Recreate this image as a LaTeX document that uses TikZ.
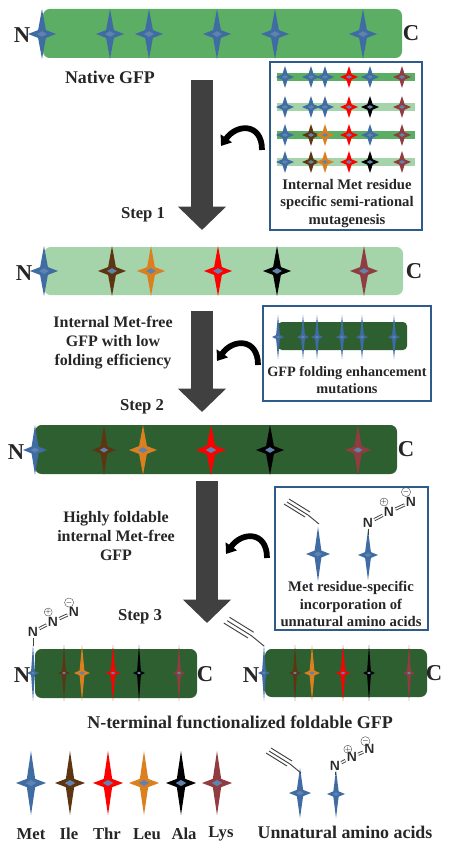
\documentclass[tikz,border=0pt]{standalone}
\usepackage{fontspec}
\setmainfont{Liberation Serif}
\usetikzlibrary{arrows.meta,calc}
\definecolor{gfpmid}{HTML}{5BAE64}
\definecolor{gfppale}{HTML}{A5D4AB}
\definecolor{gfpdark}{HTML}{2D5F30}
\definecolor{boxblue}{HTML}{2F5A8C}
\definecolor{downgray}{HTML}{404040}
\definecolor{metc}{HTML}{3F6CA3}
\definecolor{ilec}{HTML}{5E3511}
\definecolor{thrc}{HTML}{FF0000}
\definecolor{leuc}{HTML}{DC7F1E}
\definecolor{alac}{HTML}{000000}
\definecolor{lysc}{HTML}{913C40}
\definecolor{spotc}{HTML}{5F83AE}
\tikzset{
  x=0.75pt, y=-0.75pt,
  panelbox/.style={draw=boxblue, line width=1.9pt, fill=white},
  labeltxt/.style={font=\fontsize{12.5}{14.3}\selectfont\bfseries, align=center, inner sep=0pt, text=black!85},
  widetxt/.style={labeltxt, font=\fontsize{13.4}{15}\selectfont\bfseries},
  sidetxt/.style={labeltxt, font=\fontsize{12}{14.3}\selectfont\bfseries},
  boxtxt/.style={font=\fontsize{11}{13}\selectfont\bfseries, align=center, inner sep=0pt, text=black!85},
  endtxt/.style={font=\fontsize{17}{17}\selectfont\bfseries, inner sep=0pt, text=black!85},
  downarr/.style={-{Triangle[length=17.5pt, width=35pt]}, line width=16.5pt, color=downgray},
  curvearr/.style={-{Triangle[length=7pt, width=10pt]}, line width=4.3pt, color=black},
  atom/.style={font=\sffamily\bfseries\fontsize{10}{10}\selectfont, inner sep=0.6pt, text=black!85},
  charge/.style={draw=black!70, circle, line width=0.3pt, inner sep=0pt, minimum size=5.5pt,
                 font=\sffamily\fontsize{5.5}{5.5}\selectfont},
  bond/.style={line width=0.7pt, color=black!75},
  azide/.pic={
    \node[atom] (a) at (0,0) {N};
    \node[atom] (b) at (21,-11) {N};
    \node[atom] (c) at (43,-21) {N};
    \node[charge] (p) at (16,-21) {+};
    \node[charge] (m) at (38,-31) {$-$};
    \draw[bond, double, double distance=1pt] (a) -- (b);
    \draw[bond, double, double distance=1pt] (b) -- (c);
  },
  alkyne/.pic={
    \coordinate (s) at (0,0);
    \coordinate (t) at (-11,-9);
    \coordinate (e) at (-32,-22);
    \draw[bond] (s) -- (t) -- (e);
    \draw[bond] ($(t)+(-3,2)$) -- ($(e)+(-3,2)$);
    \draw[bond] ($(t)+(2,-3)$) -- ($(e)+(2,-3)$);
  }}
% x, y, half width, half height, colour
\newcommand{\residue}[5]{
  \begin{scope}[shift={(#1,#2)}]
    \fill[#5] (0,-#4) -- ({0.25*#3+0.4},{-0.25*#3-0.4}) -- (#3,0) -- ({0.25*#3+0.4},{0.25*#3+0.4})
      -- (0,#4) -- ({-0.25*#3-0.4},{0.25*#3+0.4}) -- (-#3,0) -- ({-0.25*#3-0.4},{-0.25*#3-0.4}) -- cycle;
    \fill[spotc] ({-0.35*#3},0) -- (0,{-0.2*#3}) -- ({0.35*#3},0) -- (0,{0.2*#3}) -- cycle;
  \end{scope}}
\begin{document}
\begin{tikzpicture}
  \useasboundingbox (0,0) rectangle (460,856);
  % native protein
  \fill[gfpmid, rounded corners=5pt] (43,9) rectangle (402,58);
  \foreach \px in {42,110,149,217,275,363}
    \residue{\px}{34}{14}{25}{metc};
  \node[endtxt] (n1) at (22,35) {N};
  \node[endtxt] (c1) at (411,33) {C};
  \node[widetxt] (native) at (110,77) {Native GFP};
  % step 1
  \coordinate (d1a) at (202,80);
  \coordinate (d1b) at (202,230);
  \draw[downarr] (d1a) -- (d1b);
  \node[labeltxt] (step1) at (143,215) {Step 1};
  \draw[panelbox] (270,62) rectangle (422,230);
  \fill[gfpmid] (277,73) rectangle (415,81);
  \fill[gfppale] (277,103) rectangle (415,111);
  \fill[gfpmid] (277,131) rectangle (415,139);
  \fill[gfppale] (277,158) rectangle (415,166);
  \foreach \py/\cb/\cc/\ce in {77/metc/metc/metc,107/metc/metc/alac,135/ilec/leuc/metc,162/ilec/leuc/alac}{
    \foreach \px/\c in {285/metc,311/\cb,325/\cc,349/thrc,370/\ce,402/lysc}
      \residue{\px}{\py}{9}{11}{\c};
  }
  \node[boxtxt] (txt1) at (347,203.5) {Internal Met residue\\specific semi-rational\\mutagenesis};
  \coordinate (cv1a) at (262,150);
  \coordinate (cv1b) at (221,146);
  \draw[curvearr] (cv1a) to[out=90, in=55, looseness=1.7] (cv1b);
  % low folding efficiency
  \fill[gfppale, rounded corners=5pt] (44,247) rectangle (403,295);
  \foreach \px/\c in {44/metc,112/ilec,151/leuc,218/thrc,277/alac,364/lysc}
    \residue{\px}{271}{14}{25}{\c};
  \node[endtxt] (n2) at (24,273) {N};
  \node[endtxt] (c2) at (414,271) {C};
  % step 2
  \coordinate (d2a) at (202,311);
  \coordinate (d2b) at (202,412);
  \draw[downarr] (d2a) -- (d2b);
  \node[sidetxt] (txt2) at (113,343) {Internal Met-free\\GFP with low\\folding efficiency};
  \node[labeltxt] (step2) at (142,407) {Step 2};
  \draw[panelbox] (263,306) rectangle (431,401);
  \fill[gfpdark, rounded corners=3pt] (278,322) rectangle (407,350);
  \foreach \px in {278,303,317,342,362,394}
    \residue{\px}{337}{6}{22}{metc};
  \node[boxtxt, font=\fontsize{10.7}{12.3}\selectfont\bfseries] (txt3) at (347,380) {GFP folding enhancement\\mutations};
  \coordinate (cv2a) at (258,365);
  \coordinate (cv2b) at (217,361);
  \draw[curvearr] (cv2a) to[out=90, in=55, looseness=1.7] (cv2b);
  % foldable protein
  \fill[gfpdark, rounded corners=5pt] (35,425) rectangle (397,474);
  \foreach \px/\c/\pw in {35/metc/12,104/ilec/12,143/leuc/14,211/thrc/15,270/alac/14,358/lysc/13}
    \residue{\px}{450}{\pw}{25}{\c};
  \node[endtxt] (n3) at (16,452) {N};
  \node[endtxt] (c3) at (406,449) {C};
  % step 3
  \coordinate (d3a) at (207,481);
  \coordinate (d3b) at (207,623);
  \draw[downarr] (d3a) -- (d3b);
  \node[sidetxt] (txt4) at (116,536) {Highly foldable\\internal Met-free\\GFP};
  \node[labeltxt] (step3) at (140,617) {Step 3};
  \draw[panelbox] (275,487) rectangle (428,630);
  \residue{318}{554}{12}{27}{metc};
  \residue{368}{555}{10}{25}{metc};
  \pic (alkbox) at (319,524) {alkyne};
  \pic (azbox) at (368,523) {azide};
  \coordinate (azboxs) at (368,535);
  \draw[bond] (azboxa) -- (azboxs);
  \node[boxtxt] (txt5) at (351,604) {Met residue-specific\\incorporation of\\unnatural amino acids};
  \coordinate (cv3a) at (267,558);
  \coordinate (cv3b) at (226,554);
  \draw[curvearr] (cv3a) to[out=90, in=55, looseness=1.7] (cv3b);
  % functionalized proteins
  \fill[gfpdark, rounded corners=5pt] (35,649) rectangle (197,698);
  \foreach \px/\c/\pw in {33/metc/6,64/ilec/6,82/leuc/8,113/thrc/7,139/alac/6,179/lysc/6}
    \residue{\px}{673}{\pw}{28}{\c};
  \node[endtxt] (n4) at (22,675) {N};
  \node[endtxt] (c4) at (205,674) {C};
  \pic[scale=0.95] (azleft) at (33,632) {azide};
  \coordinate (azlefts) at (33,646);
  \draw[bond] (azlefta) -- (azlefts);
  \fill[gfpdark, rounded corners=5pt] (265,649) rectangle (427,697);
  \foreach \px/\c/\pw in {264/metc/6,295/ilec/6,312/leuc/8,343/thrc/7,369/alac/6,409/lysc/6}
    \residue{\px}{673}{\pw}{28}{\c};
  \node[endtxt] (n5) at (251,675) {N};
  \node[endtxt] (c5) at (434,673) {C};
  \pic[scale=1.15] (alkright) at (264,646) {alkyne};
  \node[widetxt, font=\fontsize{13.5}{15}\selectfont\bfseries] (funct) at (240,722) {N-terminal functionalized foldable GFP};
  % legend
  \foreach \px/\c in {31/metc,70/ilec,108/thrc,144/leuc,181/alac,217/lysc}
    \residue{\px}{783}{15}{32}{\c};
  \foreach \px/\txt in {31/Met,69/Ile,107/Thr,147/Leu,184/Ala,221/Lys}
    \node[labeltxt] (lab\txt) at (\px,834) {\txt};
  \residue{300}{793}{11}{25}{metc};
  \residue{336}{794}{9}{24}{metc};
  \pic (alkleg) at (301,773) {alkyne};
  \pic[scale=0.8] (azleg) at (335,766) {azide};
  \coordinate (azlegs) at (335,775);
  \draw[bond] (azlega) -- (azlegs);
  \node[widetxt] (unnat) at (345,832) {Unnatural amino acids};
\end{tikzpicture}
\end{document}
